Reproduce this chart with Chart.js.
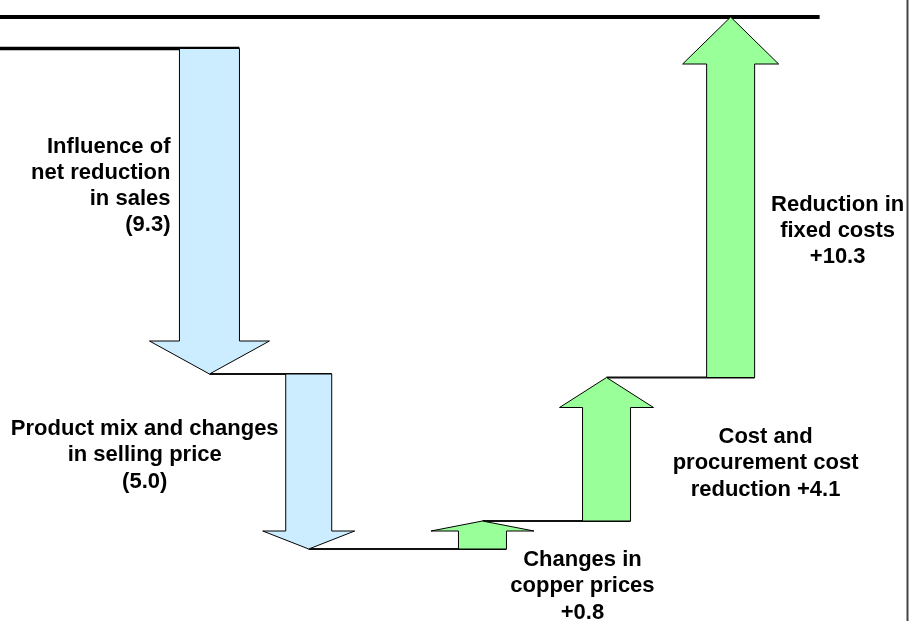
<!DOCTYPE html>
<html>
<head>
<meta charset="utf-8">
<script src="https://cdn.jsdelivr.net/npm/chart.js@4/dist/chart.umd.min.js"></script>
<style>
  html, body { margin: 0; padding: 0; background: #fff; }
  #wrap { position: relative; width: 919px; height: 621px; }
</style>
</head>
<body>
<div id="wrap"><canvas id="bridge"></canvas></div>
<script>
// steps of the profit bridge (change in billions)
const steps = [
  'Influence of net reduction in sales',
  'Product mix and changes in selling price',
  'Changes in copper prices',
  'Cost and procurement cost reduction',
  'Reduction in fixed costs'
];
const deltas = [-9.3, -5.0, 0.8, 4.1, 10.3];
const startLevel = 0;
const labelLines = [
  ['Influence of', 'net reduction', 'in sales', '(9.3)'],
  ['Product mix and changes', 'in selling price', '(5.0)'],
  ['Changes in', 'copper prices', '+0.8'],
  ['Cost and', 'procurement cost', 'reduction +4.1'],
  ['Reduction in', 'fixed costs', '+10.3']
];

// layout (not data): where each arrow sits on the x axis, arrow shapes, label offsets
const slots = [0, 4, 11, 16, 21];
const arrowStyle = [
  { shaft: 60, headW: 120, headL: 33, fill: '#ccecff' },
  { shaft: 46, headW: 92, headL: 18, fill: '#ccecff' },
  { shaft: 48, headW: 103, headL: 10, fill: '#99ff99' },
  { shaft: 48, headW: 94, headL: 30, fill: '#99ff99' },
  { shaft: 48, headW: 96, headL: 47, fill: '#99ff99' }
];
const labelPos = [
  { dx: -39, dy: 104, align: 'right' },
  { dx: -164, dy: 61, align: 'center' },
  { dx: 100, dy: 17, align: 'center' },
  { dx: 159, dy: -78, align: 'center' },
  { dx: 107, dy: -167, align: 'center' }
];

const levels = [startLevel];
deltas.forEach(d => levels.push(+(levels[levels.length - 1] + d).toFixed(1)));

const barData = deltas.map((d, i) => ({ x: slots[i], y: [levels[i], levels[i + 1]] }));

function drawArrow(ctx, x, y0, y1, st) {
  const dir = y1 > y0 ? 1 : -1;
  const yb = y1 - dir * st.headL;
  const s = st.shaft / 2, h = st.headW / 2;
  ctx.beginPath();
  ctx.moveTo(x - s, y0);
  ctx.lineTo(x - s, yb);
  ctx.lineTo(x - h, yb);
  ctx.lineTo(x, y1);
  ctx.lineTo(x + h, yb);
  ctx.lineTo(x + s, yb);
  ctx.lineTo(x + s, y0);
  ctx.closePath();
  ctx.fillStyle = st.fill;
  ctx.fill();
  ctx.lineWidth = 1;
  ctx.strokeStyle = '#000';
  ctx.stroke();
}

function hline(ctx, x0, x1, y, w, color) {
  ctx.beginPath();
  ctx.moveTo(x0, y);
  ctx.lineTo(x1, y);
  ctx.lineWidth = w;
  ctx.strokeStyle = color;
  ctx.stroke();
}

const arrowPlugin = {
  id: 'arrows',
  afterDatasetsDraw(chart) {
    const ctx = chart.ctx;
    const xs = chart.scales.x, ys = chart.scales.y;
    const px = slots.map(s => xs.getPixelForValue(s));
    const py = levels.map(v => ys.getPixelForValue(v));
    ctx.save();

    // opening and closing level lines
    hline(ctx, chart.chartArea.left, px[0] + arrowStyle[0].shaft / 2, py[0], 3.5, '#000');
    hline(ctx, chart.chartArea.left, px[4] + 89, py[5], 4, '#000');

    // connectors from each tip to the next shaft
    for (let i = 0; i < deltas.length - 1; i++) {
      hline(ctx, px[i], px[i + 1] + arrowStyle[i + 1].shaft / 2, py[i + 1], 2, '#111');
    }

    deltas.forEach((d, i) => drawArrow(ctx, px[i], py[i], py[i + 1], arrowStyle[i]));

    // labels
    ctx.fillStyle = '#000';
    ctx.font = 'bold 22px "Liberation Sans", Arial, sans-serif';
    ctx.textBaseline = 'alphabetic';
    labelLines.forEach((lines, i) => {
      const lp = labelPos[i];
      ctx.textAlign = lp.align;
      lines.forEach((t, k) => ctx.fillText(t, px[i] + lp.dx, py[i] + lp.dy + k * 26.3));
    });

    // frame edge on the right
    ctx.beginPath();
    ctx.moveTo(chart.width - 11.5, 0);
    ctx.lineTo(chart.width - 11.5, chart.height);
    ctx.lineWidth = 2;
    ctx.strokeStyle = '#444';
    ctx.stroke();
    ctx.restore();
  }
};

new Chart(document.getElementById('bridge'), {
  type: 'bar',
  data: {
    labels: steps,
    datasets: [{
      data: barData,
      backgroundColor: 'rgba(0,0,0,0)',
      borderWidth: 0
    }]
  },
  options: {
    responsive: true,
    maintainAspectRatio: false,
    animation: false,
    layout: { padding: 0 },
    plugins: { legend: { display: false }, tooltip: { enabled: false } },
    scales: {
      x: { type: 'linear', min: -8.44, max: 28.59, offset: false, display: false },
      y: { type: 'linear', min: -16.357, max: 1.386, display: false }
    }
  },
  plugins: [arrowPlugin]
});
</script>
</body>
</html>
